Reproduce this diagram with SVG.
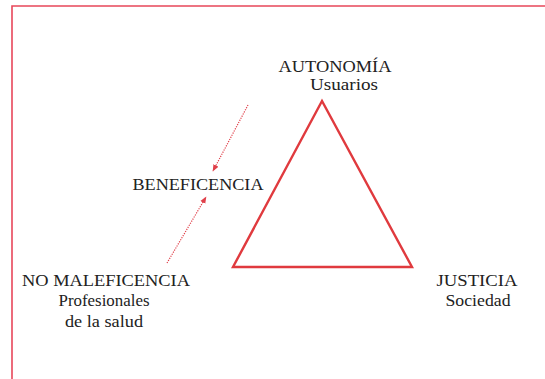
<svg xmlns="http://www.w3.org/2000/svg" width="545" height="379" viewBox="0 0 545 379">
<style>
text{font-family:"Liberation Serif","DejaVu Serif",serif;font-size:16.5px;fill:#222;text-anchor:middle}
.dot{stroke:#e0404a;stroke-width:1.2;stroke-dasharray:1.2 1.2;fill:none}
</style>
<defs>
<marker id="ah" viewBox="0 0 10 10" refX="9" refY="5" markerWidth="7" markerHeight="7" orient="auto" markerUnits="userSpaceOnUse">
<path d="M0,1 L10,5 L0,9 Z" fill="#e0404a"/>
</marker>
</defs>
<rect width="545" height="379" fill="#fff"/>
<path d="M12,379 V6 H545" fill="none" stroke="#e8475a" stroke-width="1.6"/>
<g id="triangle">
<polygon points="322,101 233,267 412,267" fill="none" stroke="#e03a3e" stroke-width="2.4" stroke-linejoin="miter"/>
</g>
<g id="autonomia">
<text x="335" y="72" textLength="113" lengthAdjust="spacingAndGlyphs">AUTONOMÍA</text>
<text x="344" y="90" textLength="68" lengthAdjust="spacingAndGlyphs">Usuarios</text>
</g>
<g id="beneficencia">
<text x="198" y="190" textLength="131" lengthAdjust="spacingAndGlyphs">BENEFICENCIA</text>
</g>
<g id="nomaleficencia">
<text x="106" y="286" textLength="168" lengthAdjust="spacingAndGlyphs">NO MALEFICENCIA</text>
<text x="104" y="306" textLength="91" lengthAdjust="spacingAndGlyphs">Profesionales</text>
<text x="104" y="327" textLength="78" lengthAdjust="spacingAndGlyphs">de la salud</text>
</g>
<g id="justicia">
<text x="477" y="286" textLength="81" lengthAdjust="spacingAndGlyphs">JUSTICIA</text>
<text x="478" y="306" textLength="65" lengthAdjust="spacingAndGlyphs">Sociedad</text>
</g>
<g id="connectors">
<line class="dot" x1="248" y1="105" x2="213" y2="171" marker-end="url(#ah)"/>
<line class="dot" x1="167" y1="263" x2="206" y2="197" marker-end="url(#ah)"/>
</g>
</svg>
